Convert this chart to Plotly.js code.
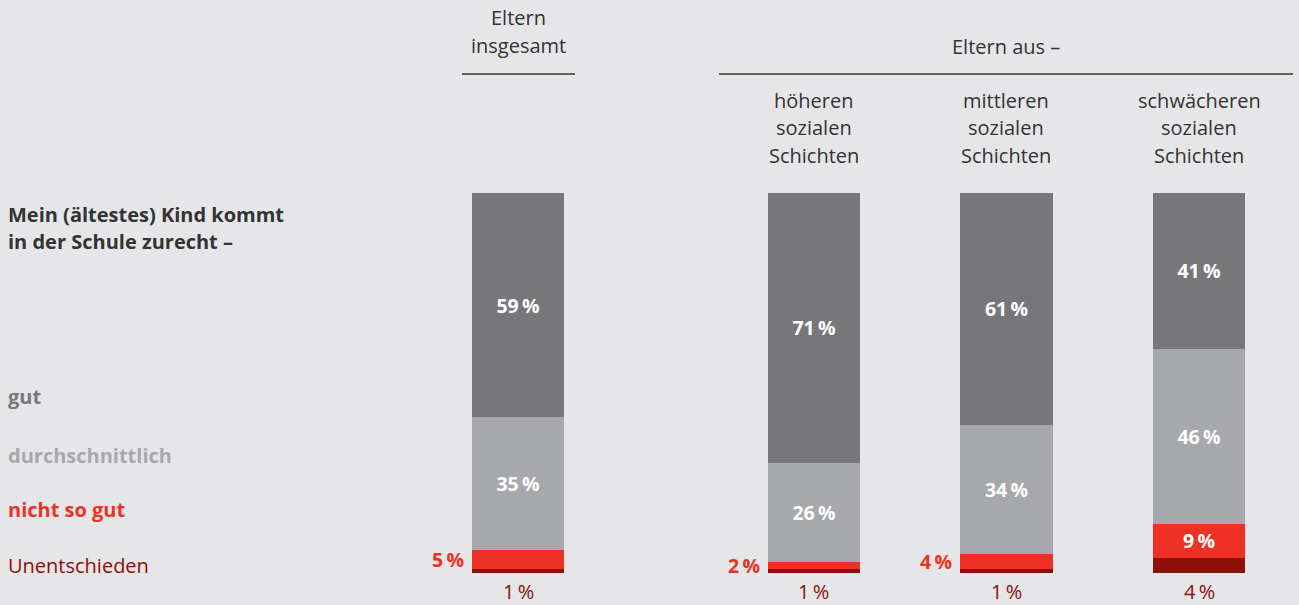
<!DOCTYPE html>
<html>
<head>
<meta charset="utf-8">
<script src="https://cdn.plot.ly/plotly-3.0.1.min.js"></script>
<style>
  html, body { margin: 0; padding: 0; background: #e6e6e8; }
  #chart { width: 1299px; height: 605px; }
</style>
</head>
<body>
<div id="chart"></div>
<script>
// ---- data ----
const categories = ["Eltern insgesamt", "höheren sozialen Schichten", "mittleren sozialen Schichten", "schwächeren sozialen Schichten"];
const headerLines = [["Eltern", "insgesamt"], ["höheren", "sozialen", "Schichten"], ["mittleren", "sozialen", "Schichten"], ["schwächeren", "sozialen", "Schichten"]];
const groupTitle = "Eltern aus –";
const questionLines = ["Mein (ältestes) Kind kommt", "in der Schule zurecht –"];
const seriesNames = ["gut", "durchschnittlich", "nicht so gut", "Unentschieden"];
const gut = [59, 71, 61, 41];
const durchschnittlich = [35, 26, 34, 46];
const nichtSoGut = [5, 2, 4, 9];
const unentschieden = [1, 1, 1, 4];

// ---- styles ----
const BG = "#e6e6e8";
const colors = { gut: "#77777b", durch: "#a7a8ac", nicht: "#ee3124", unent: "#8c1106" };
const FONT = "Open Sans, Noto Sans, sans-serif";
const TXT = "#333333";
const FS = 20;      // regular text size
const FSB = 19.5;   // bold value labels
const pct = v => v + "\u2009%";

const groups = [
  { idx: [0], xa: "x", ya: "y" },
  { idx: [1, 2, 3], xa: "x2", ya: "y2" }
];

const seriesDefs = [
  { name: seriesNames[3], vals: unentschieden, color: colors.unent, inside: v => false },
  { name: seriesNames[2], vals: nichtSoGut, color: colors.nicht, inside: v => v >= 6 },
  { name: seriesNames[1], vals: durchschnittlich, color: colors.durch, inside: v => true },
  { name: seriesNames[0], vals: gut, color: colors.gut, inside: v => true }
];

const traces = [];
groups.forEach(g => {
  seriesDefs.forEach(s => {
    traces.push({
      type: "bar",
      name: s.name,
      x: g.idx.map(i => categories[i]),
      y: g.idx.map(i => s.vals[i]),
      xaxis: g.xa, yaxis: g.ya,
      width: 0.478,
      marker: { color: s.color, line: { width: 0 } },
      text: g.idx.map(i => s.inside(s.vals[i]) ? pct(s.vals[i]) : ""),
      textposition: "inside",
      insidetextanchor: "middle",
      constraintext: "none",
      textfont: { family: FONT, size: FSB, color: "#ffffff", weight: 700 },
      hoverinfo: "skip",
      showlegend: false
    });
  });
});

const annotations = [];
const xrefOf = i => (i === 0 ? "x" : "x2");
const yrefOf = i => (i === 0 ? "y" : "y2");

categories.forEach((c, i) => {
  headerLines[i].forEach((line, k) => {
    const n = headerLines[i].length;
    const ypx = (n === 2 ? 18 : 100) + k * 27.5;
    annotations.push({
      xref: xrefOf(i), yref: "paper", x: c, y: 1 - ypx / 605,
      text: line, showarrow: false, xanchor: "center", yanchor: "middle",
      font: { family: FONT, size: FS, color: TXT }
    });
  });
  annotations.push({
    xref: xrefOf(i), yref: yrefOf(i), x: c, y: 0,
    text: pct(unentschieden[i]), showarrow: false, xanchor: "center", yanchor: "top", yshift: -3,
    font: { family: FONT, size: FS, color: colors.unent }
  });
  if (!seriesDefs[1].inside(nichtSoGut[i])) {
    annotations.push({
      xref: xrefOf(i), yref: yrefOf(i), x: c, y: unentschieden[i] + nichtSoGut[i] / 2,
      text: pct(nichtSoGut[i]), showarrow: false, xanchor: "right", yanchor: "middle", xshift: -52,
      font: { family: FONT, size: FSB, color: colors.nicht, weight: 700 }
    });
  }
});

annotations.push({
  xref: "x2", yref: "paper", x: categories[2], y: 1 - 46 / 605,
  text: groupTitle, showarrow: false, xanchor: "center", yanchor: "middle",
  font: { family: FONT, size: FS, color: TXT }
});

questionLines.forEach((line, k) => {
  annotations.push({
    xref: "paper", yref: "paper", x: 6 / 1299, y: 1 - (214 + k * 27.5) / 605,
    text: line, showarrow: false, xanchor: "left", yanchor: "middle",
    font: { family: FONT, size: FS, color: TXT, weight: 700 }
  });
});

const legendRows = [
  { t: seriesNames[0], y: 397, c: colors.gut, w: 700 },
  { t: seriesNames[1], y: 455, c: colors.durch, w: 700 },
  { t: seriesNames[2], y: 509, c: colors.nicht, w: 700 },
  { t: seriesNames[3], y: 565, c: colors.unent, w: 400 }
];
legendRows.forEach(r => {
  annotations.push({
    xref: "paper", yref: "paper", x: 6 / 1299, y: 1 - r.y / 605,
    text: r.t, showarrow: false, xanchor: "left", yanchor: "middle",
    font: { family: FONT, size: FS, color: r.c, weight: r.w }
  });
});

const shapes = [
  { type: "line", xref: "paper", yref: "paper", x0: 462 / 1299, x1: 575 / 1299, y0: 1 - 74 / 605, y1: 1 - 74 / 605, line: { color: TXT, width: 1.5 } },
  { type: "line", xref: "paper", yref: "paper", x0: 719 / 1299, x1: 1293 / 1299, y0: 1 - 74 / 605, y1: 1 - 74 / 605, line: { color: TXT, width: 1.5 } }
];

const yRange = [-32 / 3.8, 573 / 3.8];
const layout = {
  width: 1299, height: 605, autosize: false,
  margin: { l: 0, r: 0, t: 0, b: 0, pad: 0 },
  paper_bgcolor: BG, plot_bgcolor: BG,
  barmode: "stack",
  showlegend: false,
  xaxis: { domain: [422 / 1299, 614 / 1299], range: [-0.5, 0.5], type: "category", visible: false, fixedrange: true },
  xaxis2: { domain: [717.75 / 1299, 1295.25 / 1299], range: [-0.5, 2.5], type: "category", visible: false, fixedrange: true },
  yaxis: { range: yRange, visible: false, fixedrange: true, anchor: "x" },
  yaxis2: { range: yRange, visible: false, fixedrange: true, anchor: "x2" },
  annotations: annotations,
  shapes: shapes,
  font: { family: FONT }
};

Plotly.newPlot("chart", traces, layout, { displayModeBar: false, staticPlot: true });
</script>
</body>
</html>
